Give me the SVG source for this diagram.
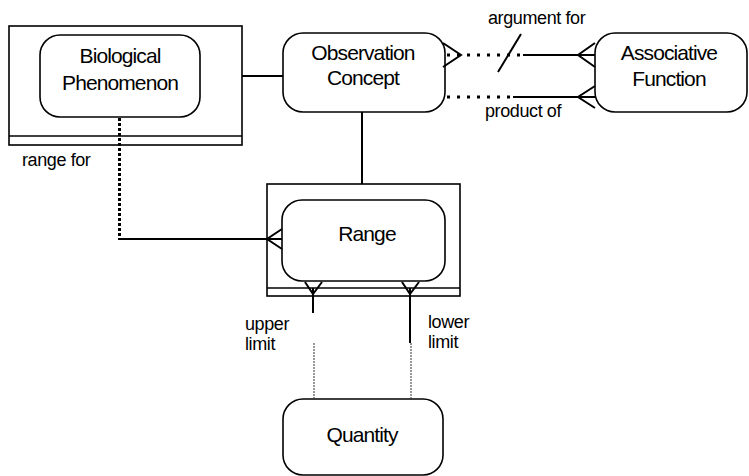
<svg xmlns="http://www.w3.org/2000/svg" width="749" height="476" viewBox="0 0 749 476">
<style>
.box{fill:#fff;stroke:#000;stroke-width:1.6}
.outer{fill:#fff;stroke:#000;stroke-width:1.6}
.ln{fill:none;stroke:#000;stroke-width:2}
.dot{fill:none;stroke:#000;stroke-width:3;stroke-dasharray:3 7}
.dot2{fill:none;stroke:#000;stroke-width:3;stroke-dasharray:3 2}
.thin{fill:none;stroke:#333;stroke-width:1;stroke-dasharray:2 1}
.t{font-family:"Liberation Sans",Arial,sans-serif;font-size:21px;text-anchor:middle;fill:#000;letter-spacing:-0.9px}
.l{font-family:"Liberation Sans",Arial,sans-serif;font-size:18px;fill:#000;letter-spacing:-0.4px}
</style>
<rect width="749" height="476" fill="#fff"/>
<g id="bio">
<rect class="outer" x="9" y="26" width="233" height="119"/>
<line x1="9" y1="136" x2="242" y2="136" stroke="#000" stroke-width="1.6"/>
<rect class="box" x="40" y="35" width="160" height="82" rx="20"/>
<text class="t" x="120" y="63">Biological</text>
<text class="t" x="120" y="90">Phenomenon</text>
</g>
<g id="obs">
<rect class="box" x="283" y="33" width="162" height="79" rx="20"/>
<text class="t" x="363" y="60">Observation</text>
<text class="t" x="363" y="85">Concept</text>
</g>
<g id="assoc">
<rect class="box" x="595" y="33" width="152" height="79" rx="20"/>
<text class="t" x="669" y="60">Associative</text>
<text class="t" x="669" y="86">Function</text>
</g>
<g id="range">
<rect class="outer" x="267" y="184" width="193" height="112"/>
<line x1="267" y1="288" x2="460" y2="288" stroke="#000" stroke-width="1.6"/>
<rect class="box" x="282" y="200" width="163" height="81" rx="20"/>
<text class="t" x="367" y="241">Range</text>
</g>
<g id="quantity">
<rect class="box" x="283" y="399" width="160" height="76" rx="20"/>
<text class="t" x="362" y="442">Quantity</text>
</g>
<g id="connectors">
<line class="ln" x1="242" y1="76" x2="283" y2="76"/>
<line class="ln" x1="362" y1="112" x2="362" y2="184"/>
<path class="dot2" d="M119.5 118 V239"/>
<path class="ln" d="M118 239 H282"/>
<path class="ln" d="M282 229 L267 239 L282 249"/>
<path class="ln" d="M443 43 L461 55 L443 67"/>
<path class="dot" d="M447 55 H520"/>
<path class="ln" d="M523 55 H595"/>
<path class="ln" d="M595 43 L578 55 L595 67"/>
<line class="ln" x1="498" y1="72" x2="521" y2="34"/>
<path class="dot" d="M447 97 H515"/>
<path class="ln" d="M513 97 H595"/>
<path class="ln" d="M595 86 L578 97 L595 108"/>
<path class="ln" d="M305 282 L313 294 L322 282"/>
<path class="ln" d="M313 288 V313"/>
<path class="ln" d="M402 282 L410 294 L419 282"/>
<path class="ln" d="M410 288 V343"/>
<path class="thin" d="M314 343 V399"/>
<path class="thin" d="M411 343 V399"/>
</g>
<g id="labels">
<text class="l" x="22" y="166">range for</text>
<text class="l" x="488" y="24">argument for</text>
<text class="l" x="485" y="117">product of</text>
<text class="l" x="245" y="330">upper</text>
<text class="l" x="245" y="350">limit</text>
<text class="l" x="428" y="328">lower</text>
<text class="l" x="428" y="348">limit</text>
</g>
</svg>
